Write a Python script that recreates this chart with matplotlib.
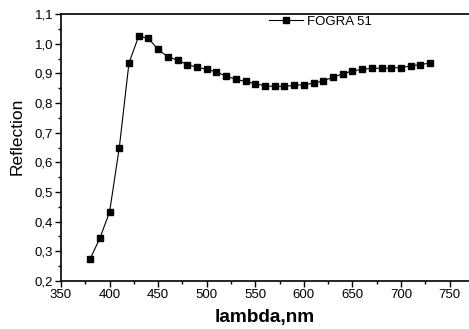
import numpy as np
import matplotlib.pyplot as plt
from matplotlib.ticker import MultipleLocator

plt.rcParams['font.family'] = ['Liberation Sans', 'DejaVu Sans']

wavelength = [380, 390, 400, 410, 420, 430, 440, 450, 460, 470, 480, 490,
              500, 510, 520, 530, 540, 550, 560, 570, 580, 590, 600, 610,
              620, 630, 640, 650, 660, 670, 680, 690, 700, 710, 720, 730]
reflection = [0.274, 0.344, 0.432, 0.649, 0.935, 1.026, 1.018, 0.981, 0.956, 0.945, 0.930, 0.921,
              0.914, 0.905, 0.891, 0.880, 0.873, 0.866, 0.858, 0.856, 0.856, 0.860, 0.862, 0.867,
              0.875, 0.887, 0.899, 0.908, 0.914, 0.917, 0.918, 0.918, 0.920, 0.925, 0.930, 0.935]

fig = plt.figure(figsize=(4.69, 3.29), dpi=100)
ax = fig.add_axes([0.130, 0.146, 0.870, 0.811])

ax.plot(wavelength, reflection, color='black', lw=0.8, marker='s', ms=5,
        label='FOGRA 51')

ax.set_xlim(350, 770)
ax.set_ylim(0.2, 1.1)
ax.xaxis.set_major_locator(MultipleLocator(50))
ax.xaxis.set_minor_locator(MultipleLocator(25))
ax.yaxis.set_major_locator(MultipleLocator(0.1))
ax.yaxis.set_minor_locator(MultipleLocator(0.05))
ax.yaxis.set_major_formatter(lambda v, p: f'{v:.1f}'.replace('.', ','))

ax.tick_params(which='both', direction='out', labelsize=9.5, width=1, pad=1.5)
ax.tick_params(which='major', length=4)
ax.tick_params(which='minor', length=2.5)
ax.spines['right'].set_visible(False)
for s in ['left', 'bottom', 'top']:
    ax.spines[s].set_linewidth(1.2)

ax.set_xlabel('lambda,nm', fontsize=13.7, fontweight='bold', labelpad=6)
ax.set_ylabel('Reflection', fontsize=12.5, labelpad=7)
ax.yaxis.set_label_coords(-0.09, 0.543)

ax.legend(loc='upper right', bbox_to_anchor=(0.785, 1.03), frameon=False,
          fontsize=9.5, handlelength=2.6, handletextpad=0.3, borderpad=0.2)

fig.savefig('out.png', dpi=100)
